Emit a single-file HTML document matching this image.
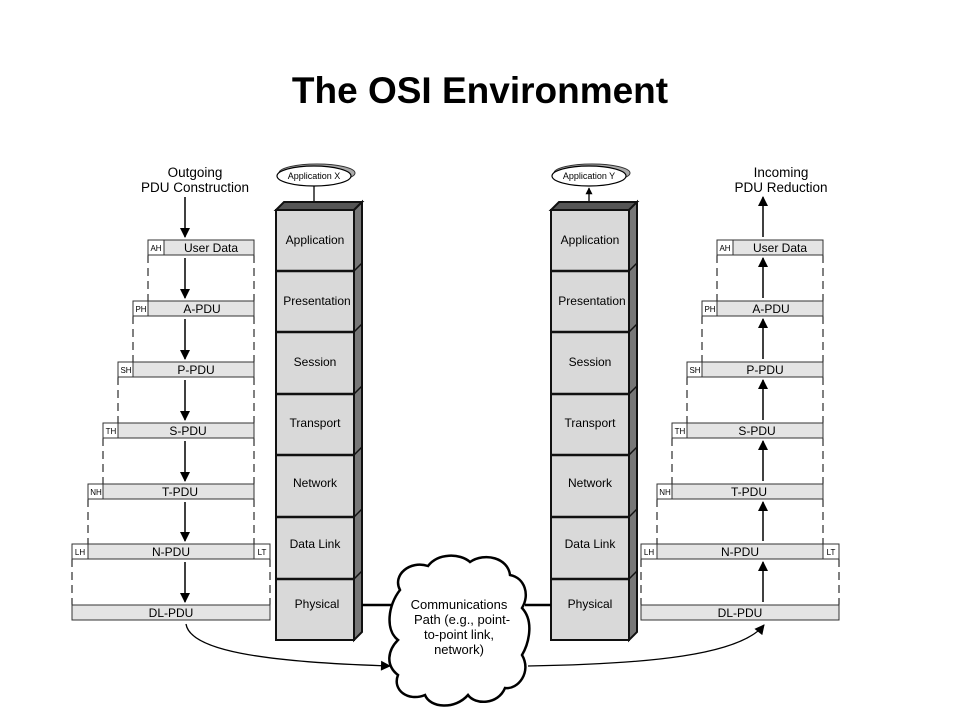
<!DOCTYPE html>
<html><head><meta charset="utf-8"><style>
html,body{margin:0;padding:0;background:#fff}
svg{display:block}
text{font-family:"Liberation Sans",Arial,sans-serif}
</style></head><body>
<svg width="960" height="720" viewBox="0 0 960 720" xmlns="http://www.w3.org/2000/svg">
<defs>
<marker id="ah" viewBox="0 0 10 10" refX="9" refY="5" markerWidth="7" markerHeight="9" orient="auto" markerUnits="userSpaceOnUse"><path d="M0,0 L10,5 L0,10 z" fill="#000"/></marker>
<marker id="ah2" viewBox="0 0 10 10" refX="9" refY="5" markerWidth="12" markerHeight="10" orient="auto" markerUnits="userSpaceOnUse"><path d="M0,0 L10,5 L0,10 z" fill="#000"/></marker>
</defs>
<text x="480" y="103" text-anchor="middle" font-size="37" font-weight="bold">The OSI Environment</text>

<!-- Left header text -->
<text x="195" y="177" text-anchor="middle" font-size="13.5">Outgoing</text>
<text x="195" y="192" text-anchor="middle" font-size="13.5">PDU Construction</text>
<text x="781" y="177" text-anchor="middle" font-size="13.5">Incoming</text>
<text x="781" y="192" text-anchor="middle" font-size="13.5">PDU Reduction</text>

<g stroke="#000" stroke-width="1.5" fill="none">
<!-- left arrows -->
<line x1="185" y1="197" x2="185" y2="237" marker-end="url(#ah2)"/>
<line x1="185" y1="258" x2="185" y2="298" marker-end="url(#ah2)"/>
<line x1="185" y1="319" x2="185" y2="359" marker-end="url(#ah2)"/>
<line x1="185" y1="380" x2="185" y2="420" marker-end="url(#ah2)"/>
<line x1="185" y1="441" x2="185" y2="481" marker-end="url(#ah2)"/>
<line x1="185" y1="502" x2="185" y2="541" marker-end="url(#ah2)"/>
<line x1="185" y1="562" x2="185" y2="602" marker-end="url(#ah2)"/>
<!-- right arrows (up) -->
<line x1="763" y1="237" x2="763" y2="197" marker-end="url(#ah2)"/>
<line x1="763" y1="298" x2="763" y2="258" marker-end="url(#ah2)"/>
<line x1="763" y1="359" x2="763" y2="319" marker-end="url(#ah2)"/>
<line x1="763" y1="420" x2="763" y2="380" marker-end="url(#ah2)"/>
<line x1="763" y1="481" x2="763" y2="441" marker-end="url(#ah2)"/>
<line x1="763" y1="541" x2="763" y2="502" marker-end="url(#ah2)"/>
<line x1="763" y1="602" x2="763" y2="562" marker-end="url(#ah2)"/>
</g>

<!-- dashed lines -->
<g stroke="#000" stroke-width="1" stroke-dasharray="8,5" fill="none">
<path d="M148,255V301M254,255V301M133,316V362M254,316V362M118,377V423M254,377V423M103,438V484M254,438V484M88,499V544M254,499V544M72,559V605M270,559V605"/>
<path d="M717,255V301M823,255V301M702,316V362M823,316V362M687,377V423M823,377V423M672,438V484M823,438V484M657,499V544M823,499V544M641,559V605M839,559V605"/>
</g>

<!-- PDU boxes left -->
<g stroke="#333" stroke-width="1" font-size="12">
<rect x="148" y="240" width="106" height="15" fill="#e4e4e4"/><rect x="148" y="240" width="16" height="15" fill="#fff"/>
<rect x="133" y="301" width="121" height="15" fill="#e4e4e4"/><rect x="133" y="301" width="15" height="15" fill="#fff"/>
<rect x="118" y="362" width="136" height="15" fill="#e4e4e4"/><rect x="118" y="362" width="15" height="15" fill="#fff"/>
<rect x="103" y="423" width="151" height="15" fill="#e4e4e4"/><rect x="103" y="423" width="15" height="15" fill="#fff"/>
<rect x="88" y="484" width="166" height="15" fill="#e4e4e4"/><rect x="88" y="484" width="15" height="15" fill="#fff"/>
<rect x="72" y="544" width="198" height="15" fill="#e4e4e4"/><rect x="72" y="544" width="16" height="15" fill="#fff"/><rect x="254" y="544" width="16" height="15" fill="#fff"/>
<rect x="72" y="605" width="198" height="15" fill="#e4e4e4"/>
<!-- right -->
<rect x="717" y="240" width="106" height="15" fill="#e4e4e4"/><rect x="717" y="240" width="16" height="15" fill="#fff"/>
<rect x="702" y="301" width="121" height="15" fill="#e4e4e4"/><rect x="702" y="301" width="15" height="15" fill="#fff"/>
<rect x="687" y="362" width="136" height="15" fill="#e4e4e4"/><rect x="687" y="362" width="15" height="15" fill="#fff"/>
<rect x="672" y="423" width="151" height="15" fill="#e4e4e4"/><rect x="672" y="423" width="15" height="15" fill="#fff"/>
<rect x="657" y="484" width="166" height="15" fill="#e4e4e4"/><rect x="657" y="484" width="15" height="15" fill="#fff"/>
<rect x="641" y="544" width="198" height="15" fill="#e4e4e4"/><rect x="641" y="544" width="16" height="15" fill="#fff"/><rect x="823" y="544" width="16" height="15" fill="#fff"/>
<rect x="641" y="605" width="198" height="15" fill="#e4e4e4"/>
</g>
<g font-size="12" text-anchor="middle">
<text x="211" y="252">User Data</text><text x="202" y="313">A-PDU</text><text x="196" y="374">P-PDU</text><text x="188" y="435">S-PDU</text><text x="180" y="496">T-PDU</text><text x="171" y="556">N-PDU</text><text x="171" y="617">DL-PDU</text>
<text x="780" y="252">User Data</text><text x="771" y="313">A-PDU</text><text x="765" y="374">P-PDU</text><text x="757" y="435">S-PDU</text><text x="749" y="496">T-PDU</text><text x="740" y="556">N-PDU</text><text x="740" y="617">DL-PDU</text>
</g>
<g font-size="8" text-anchor="middle">
<text x="156" y="251">AH</text><text x="141" y="312">PH</text><text x="126" y="373">SH</text><text x="111" y="434">TH</text><text x="96" y="495">NH</text><text x="80" y="555">LH</text><text x="262" y="555">LT</text>
<text x="725" y="251">AH</text><text x="710" y="312">PH</text><text x="695" y="373">SH</text><text x="680" y="434">TH</text><text x="665" y="495">NH</text><text x="649" y="555">LH</text><text x="831" y="555">LT</text>
</g>

<!-- App ellipses -->
<ellipse cx="317" cy="173" rx="38" ry="9" fill="#aaa" stroke="#333"/>
<ellipse cx="314" cy="176" rx="37" ry="10" fill="#fff" stroke="#000" stroke-width="1.2"/>
<text x="314" y="179" text-anchor="middle" font-size="9">Application X</text>
<line x1="314" y1="186" x2="314" y2="208" stroke="#000" stroke-width="1.3" marker-end="url(#ah)"/>
<ellipse cx="592" cy="173" rx="38" ry="9" fill="#aaa" stroke="#333"/>
<ellipse cx="589" cy="176" rx="37" ry="10" fill="#fff" stroke="#000" stroke-width="1.2"/>
<text x="589" y="179" text-anchor="middle" font-size="9">Application Y</text>
<line x1="589" y1="204" x2="589" y2="188" stroke="#000" stroke-width="1.3" marker-end="url(#ah)"/>

<!-- Left stack -->
<g stroke="#111" stroke-width="2">
<polygon points="276,210 284,202 362,202 354,210" fill="#555"/>
<polygon points="354,210 362,202 362,632 354,640" fill="#777"/>
<rect x="276" y="210" width="78" height="430" fill="#d9d9d9"/>
<path d="M276,271H354M276,332H354M276,394H354M276,455H354M276,517H354M276,579H354" stroke-width="2.5"/>
<path d="M354,271L362,263M354,332L362,324M354,394L362,386M354,455L362,447M354,517L362,509M354,579L362,571" stroke-width="1.5"/>
</g>
<!-- Right stack -->
<g stroke="#111" stroke-width="2">
<polygon points="551,210 559,202 637,202 629,210" fill="#555"/>
<polygon points="629,210 637,202 637,632 629,640" fill="#777"/>
<rect x="551" y="210" width="78" height="430" fill="#d9d9d9"/>
<path d="M551,271H629M551,332H629M551,394H629M551,455H629M551,517H629M551,579H629" stroke-width="2.5"/>
<path d="M629,271L637,263M629,332L637,324M629,394L637,386M629,455L637,447M629,517L637,509M629,579L637,571" stroke-width="1.5"/>
</g>
<g font-size="12" text-anchor="middle">
<text x="315" y="244">Application</text><text x="317" y="305">Presentation</text><text x="315" y="366">Session</text><text x="315" y="427">Transport</text><text x="315" y="487">Network</text><text x="315" y="548">Data Link</text><text x="317" y="608">Physical</text>
<text x="590" y="244">Application</text><text x="592" y="305">Presentation</text><text x="590" y="366">Session</text><text x="590" y="427">Transport</text><text x="590" y="487">Network</text><text x="590" y="548">Data Link</text><text x="590" y="608">Physical</text>
</g>

<!-- links -->
<line x1="362" y1="605" x2="400" y2="605" stroke="#000" stroke-width="2.5"/>
<line x1="525" y1="605" x2="551" y2="605" stroke="#000" stroke-width="2.5"/>
<!-- cloud -->
<path d="M400,590 C392,575 410,560 428,566 C438,553 460,553 470,562 C485,552 508,558 510,575 C525,578 530,595 522,608 C535,622 528,645 522,655 C532,672 518,690 505,688 C498,705 475,705 468,695 C455,710 430,708 425,695 C408,702 392,690 398,675 C385,665 388,650 398,640 C385,630 388,605 400,590 Z" fill="#fff" stroke="#000" stroke-width="2.5"/>
<g font-size="13" text-anchor="middle">
<text x="459" y="609">Communications</text><text x="462" y="624">Path (e.g., point-</text><text x="459" y="639">to-point link,</text><text x="459" y="654">network)</text>
</g>
<!-- curved arrows -->
<path d="M186,624 C190,650 260,662 390,666" fill="none" stroke="#000" stroke-width="1.3" marker-end="url(#ah2)"/>
<path d="M528,666 C650,664 740,655 764,625" fill="none" stroke="#000" stroke-width="1.3" marker-end="url(#ah2)"/>
</svg>
</body></html>
